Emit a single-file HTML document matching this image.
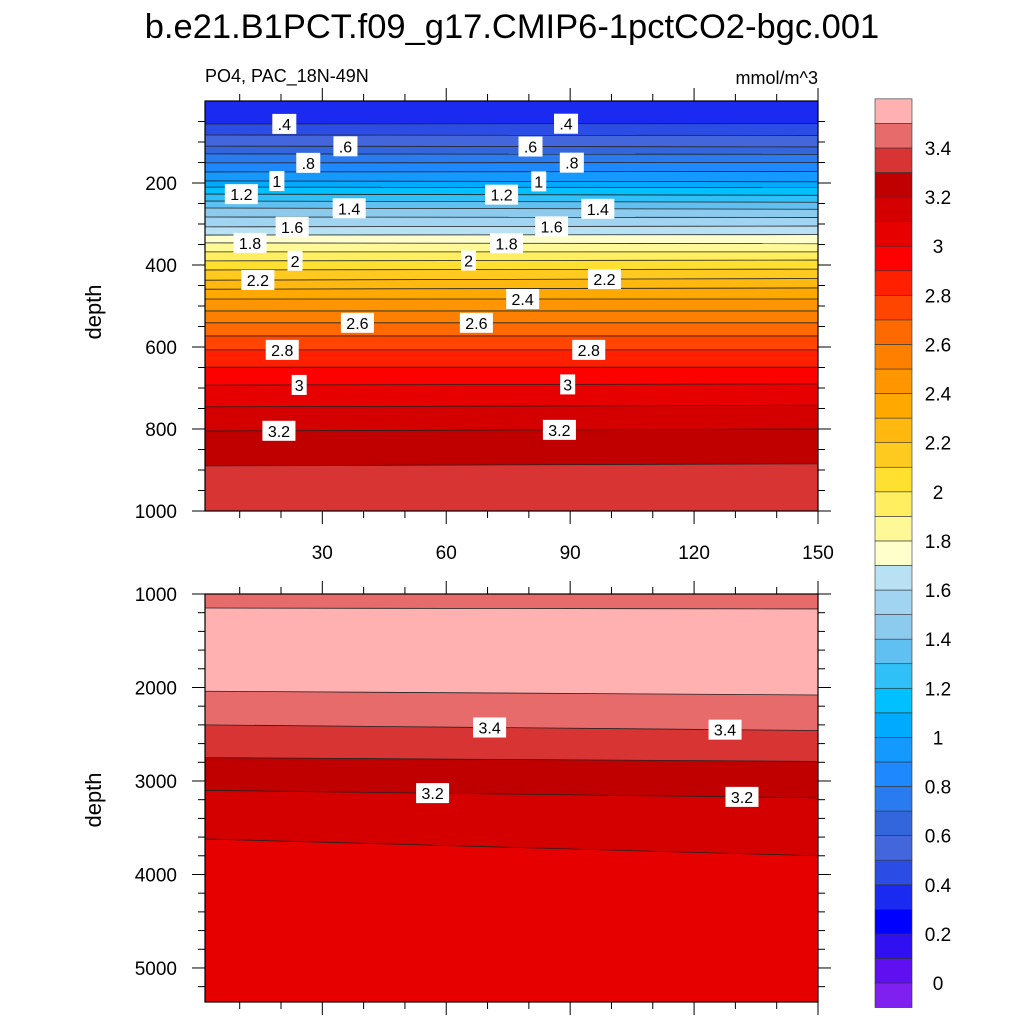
<!DOCTYPE html>
<html><head><meta charset="utf-8"><style>
body{margin:0;background:#fff}
svg text{font-family:"Liberation Sans",sans-serif;fill:#000}
</style></head><body>
<svg id="c" width="1024" height="1024" xmlns="http://www.w3.org/2000/svg">
<text x="512" y="38" font-size="34.5" text-anchor="middle">b.e21.B1PCT.f09_g17.CMIP6-1pctCO2-bgc.001</text>
<text x="205" y="82" font-size="18">PO4, PAC_18N-49N</text>
<text x="818" y="84" font-size="18" text-anchor="end">mmol/m^3</text>
<text transform="translate(101,312) rotate(-90)" font-size="22" text-anchor="middle">depth</text>
<text transform="translate(101,800) rotate(-90)" font-size="22" text-anchor="middle">depth</text>
<g id="topPanel"></g>
<g id="botPanel"></g>
<g id="cbar"></g>
</svg>
<script>
// colour levels 0..3.5 step 0.1 ; colours for 37 boxes from below 0 up to above 3.5
const cbLevels=[0,0.1,0.2,0.3,0.4,0.5,0.6,0.7,0.8,0.9,1.0,1.1,1.2,1.3,1.4,1.5,1.6,1.7,1.8,1.9,2.0,2.1,2.2,2.3,2.4,2.5,2.6,2.7,2.8,2.9,3.0,3.1,3.2,3.3,3.4,3.5];
const cbColors=["#8020F0","#6010F0","#3010F0","#0000FF","#1A2AF0","#2B4DE6","#4466DD","#3366DD","#2A7AF0","#1E88FF","#1499FF","#00AAFF","#00C0FF","#30C0F8","#60C0F2","#8CCAEE","#A0D4F0","#B8E2F4","#FFFFCC","#FFF896","#FFEE60","#FFE030","#FFCA20","#FFB810","#FFA800","#FF9500","#FF8000","#FF6A00","#FF4500","#FF2000","#FF0000","#E60000","#D40000","#C00000","#D83434","#E86B6B","#FFB0B0"];
const cbTickLabels=["0","0.2","0.4","0.6","0.8","1","1.2","1.4","1.6","1.8","2","2.2","2.4","2.6","2.8","3","3.2","3.4"];
// top panel contours: level and depth (m) at left / right edges
const topLevels=[0.4,0.5,0.6,0.7,0.8,0.9,1.0,1.1,1.2,1.3,1.4,1.5,1.6,1.7,1.8,1.9,2.0,2.1,2.2,2.3,2.4,2.5,2.6,2.7,2.8,2.9,3.0,3.1,3.2,3.3];
const topDepthLeft=[56,83,110,129,151,173,195,210,227,244,261,283,307,327,346,368,390,412,437,459,483,512,541,573,607,649,693,746,805,890];
const topDepthRight=[55,84,112,130,150,172,197,211,230,247,264,284,305,326,348,368,388,410,433,456,483,512,541,573,607,649,690,742,800,885];
// bottom panel contours (3.5 appears twice: top and bottom of max band)
const botLevels=[3.5,3.5,3.4,3.3,3.2,3.1];
const botDirection=[1,-1,-1,-1,-1,-1];
const botDepthLeft=[1150,2040,2400,2750,3100,3620];
const botDepthRight=[1160,2080,2460,2790,3180,3800];
// contour labels
const topLabelText=[".4",".4",".6",".6",".8",".8","1","1","1.2","1.2","1.4","1.4","1.6","1.6","1.8","1.8","2","2","2.2","2.2","2.4","2.6","2.6","2.8","2.8","3","3","3.2","3.2"];
const topLabelLevel=[0.4,0.4,0.6,0.6,0.8,0.8,1,1,1.2,1.2,1.4,1.4,1.6,1.6,1.8,1.8,2,2,2.2,2.2,2.4,2.6,2.6,2.8,2.8,3,3,3.2,3.2];
const topLabelX=[20.8,89,35.6,80.4,26.6,90.4,19,82.4,10.4,73.4,36.5,96.7,22.7,85.5,12.5,74.6,23.4,65.4,14.4,98.3,78.5,38.5,67.3,20.3,94.5,24.4,89.4,19.5,87.4];
const botLabelText=["3.4","3.4","3.2","3.2"];
const botLabelIdx=[2,2,4,4];
const botLabelX=[70.5,127.5,56.7,131.6];
const xTicks=[30,60,90,120,150];
const topYTicks=[200,400,600,800,1000];
const botYTicks=[1000,2000,3000,4000,5000];

const NS="http://www.w3.org/2000/svg";
function mk(tag,attrs,parent){const e=document.createElementNS(NS,tag);for(const k in attrs)e.setAttribute(k,attrs[k]);parent.appendChild(e);return e;}
const L=205,R=818,X0=1.6,X1=150;
const xs=v=>L+(v-X0)/(X1-X0)*(R-L);
const T0=101,T1=511,ty=d=>T0+d/1000*(T1-T0);
const B0=594,B1=1002,BD0=1000,BD1=5364,by=d=>B0+(d-BD0)/(BD1-BD0)*(B1-B0);
function colorFor(lo){let i=Math.round(lo*10)+1;return cbColors[Math.max(0,Math.min(cbColors.length-1,i))];}
function interp(a,b,x){const t=(x-X0)/(X1-X0);return a+(b-a)*t;}

// top panel
const topG=document.getElementById('topPanel');
let r=mk('rect',{x:L,y:T0,width:R-L,height:T1-T0,fill:colorFor(0.3)},topG);

topLevels.forEach((lv,i)=>{
  const yl=ty(topDepthLeft[i]),yr=ty(topDepthRight[i]);
  const p=mk('polygon',{points:`${L},${yl} ${R},${yr} ${R},${T1} ${L},${T1}`,fill:colorFor(lv)},topG);
  
});
topLevels.forEach((lv,i)=>{
  const l=mk('line',{x1:L,y1:ty(topDepthLeft[i]),x2:R,y2:ty(topDepthRight[i]),stroke:'#222','stroke-width':0.8},topG);
  
});
function addLabel(g,txt,x,y){
  const w=txt.length*9+6;
  const b=mk('rect',{x:x-w/2,y:y-10,width:w,height:20,fill:'#fff'},g);
  
  const t=mk('text',{x:x,y:y+6,'font-size':16,'text-anchor':'middle'},g);t.textContent=txt;
  
}
topLabelText.forEach((s,i)=>{
  const k=topLevels.findIndex(v=>Math.abs(v-topLabelLevel[i])<1e-6);
  const d=interp(topDepthLeft[k],topDepthRight[k],topLabelX[i]);
  addLabel(topG,s,xs(topLabelX[i]),ty(d));
});
let fr=mk('rect',{x:L,y:T0,width:R-L,height:T1-T0,fill:'none',stroke:'#000','stroke-width':1.2},topG);


// bottom panel
const botG=document.getElementById('botPanel');
r=mk('rect',{x:L,y:B0,width:R-L,height:B1-B0,fill:colorFor(3.4)},botG);

botLevels.forEach((lv,i)=>{
  const yl=by(botDepthLeft[i]),yr=by(botDepthRight[i]);
  const c=botDirection[i]>0?colorFor(lv):colorFor(lv-0.1);
  const p=mk('polygon',{points:`${L},${yl} ${R},${yr} ${R},${B1} ${L},${B1}`,fill:c},botG);
  
});
botLevels.forEach((lv,i)=>{
  const l=mk('line',{x1:L,y1:by(botDepthLeft[i]),x2:R,y2:by(botDepthRight[i]),stroke:'#222','stroke-width':0.8},botG);
  
});
botLabelText.forEach((s,i)=>{
  const k=botLabelIdx[i];
  addLabel(botG,s,xs(botLabelX[i]),by(interp(botDepthLeft[k],botDepthRight[k],botLabelX[i])));
});
fr=mk('rect',{x:L,y:B0,width:R-L,height:B1-B0,fill:'none',stroke:'#000','stroke-width':1.2},botG);


// ticks
function tick(g,x1,y1,x2,y2){const t=mk('line',{x1:x1,y1:y1,x2:x2,y2:y2,stroke:'#000','stroke-width':1},g);}
for(let v=10;v<=150;v+=10){
  const x=xs(v),maj=v%30===0,len=maj?13:7;
  tick(topG,x,T0,x,T0-len);tick(topG,x,T1,x,T1+len);
  tick(botG,x,B0,x,B0-len);tick(botG,x,B1,x,B1+len);
}
xTicks.forEach(v=>{const t=mk('text',{x:xs(v),y:559,'font-size':19,'text-anchor':'middle'},topG);t.textContent=v;
  });
for(let d=50;d<=1000;d+=50){const y=ty(d),maj=d%200===0,len=maj?13:7;tick(topG,L,y,L-len,y);tick(topG,R,y,R+len,y);}
topYTicks.forEach(d=>{const t=mk('text',{x:177,y:ty(d)+7,'font-size':19,'text-anchor':'end'},topG);t.textContent=d;
  });
for(let d=1000;d<=5300;d+=200){const y=by(d),maj=d%1000===0,len=maj?13:7;tick(botG,L,y,L-len,y);tick(botG,R,y,R+len,y);}
botYTicks.forEach(d=>{const t=mk('text',{x:177,y:by(d)+7,'font-size':19,'text-anchor':'end'},botG);t.textContent=d;
  });

// colorbar
const cbG=document.getElementById('cbar');
const CX=875,CW=37,Cy0=983,step=24.56;
cbColors.forEach((c,i)=>{
  const y=Cy0-i*step;
  const b=mk('rect',{x:CX,y:y,width:CW,height:step,fill:c,stroke:'#333','stroke-width':0.6},cbG);
  
});
cbTickLabels.forEach((s,i)=>{
  const t=mk('text',{x:938,y:Cy0-i*2*step+7,'font-size':19,'text-anchor':'middle'},cbG);t.textContent=s;
  
});
</script>
</body></html>
